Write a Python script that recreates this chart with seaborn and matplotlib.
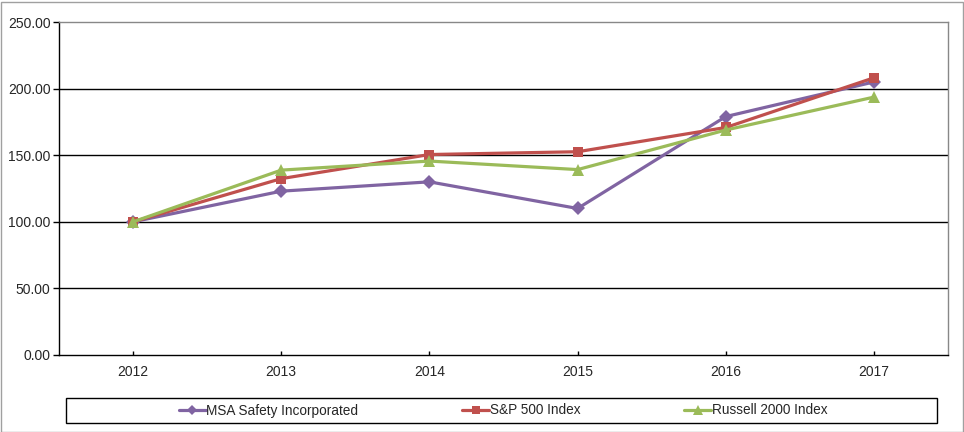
import pandas as pd
import seaborn as sns
import matplotlib.pyplot as plt
from matplotlib.patches import Rectangle

years = [2012, 2013, 2014, 2015, 2016, 2017]
msa = [100.0, 123.0, 130.0, 110.0, 179.0, 205.0]
sp500 = [100.0, 132.4, 150.5, 152.6, 170.8, 208.1]
russell = [100.0, 138.8, 145.6, 139.2, 168.9, 193.6]
names = ["MSA Safety Incorporated", "S&P 500 Index", "Russell 2000 Index"]

df = pd.concat([
    pd.DataFrame({"year": years, "value": vals, "series": name})
    for name, vals in zip(names, [msa, sp500, russell])
])

sns.set_style("white")
plt.rcParams['font.family'] = ['Liberation Sans', 'DejaVu Sans']

fig = plt.figure(figsize=(9.64, 4.32), dpi=100)
ax = fig.add_axes([59 / 964, 1 - 355 / 432, (948 - 59) / 964, (355 - 22) / 432])

palette = {names[0]: "#8064A2", names[1]: "#C0504D", names[2]: "#9BBB59"}
markers = {names[0]: "D", names[1]: "s", names[2]: "^"}
sizes = {names[0]: 7, names[1]: 7.5, names[2]: 9}

for name in names:
    sns.lineplot(data=df[df.series == name], x="year", y="value", ax=ax,
                 color=palette[name], marker=markers[name], markersize=sizes[name],
                 markeredgewidth=0, linewidth=2.3, label=name, legend=False)

ax.set_xlim(2011.5, 2017.5)
ax.set_ylim(0, 250)
ax.set_xticks(years)
ax.set_xticklabels([str(y) for y in years])
ax.set_yticks([0, 50, 100, 150, 200, 250])
ax.set_yticklabels([f"{v:.2f}" for v in [0, 50, 100, 150, 200, 250]])
ax.set_xlabel("")
ax.set_ylabel("")
ax.tick_params(axis="y", direction="out", length=4, width=1, color="black",
               labelsize=10, pad=2, left=True)
ax.tick_params(axis="x", direction="in", length=3, width=1, color="black",
               labelsize=10, pad=7, bottom=True)
for v in [50, 100, 150, 200]:
    ax.axhline(v, color="black", linewidth=1, zorder=0)

ax.spines["left"].set_color("black")
ax.spines["bottom"].set_color("black")
ax.spines["top"].set_color("#888888")
ax.spines["right"].set_color("#888888")
for s in ax.spines.values():
    s.set_linewidth(1)

# legend box
fig.patches.append(Rectangle((66 / 964, 1 - 423 / 432), (937 - 66) / 964, 25 / 432,
                             transform=fig.transFigure, fill=False,
                             edgecolor="black", linewidth=1))
handles, labels = ax.get_legend_handles_labels()
leg = fig.legend(handles, labels, loc="center", ncol=3,
                 bbox_to_anchor=(503 / 964, 1 - 410.5 / 432),
                 frameon=False, handlelength=2.0, handletextpad=0.05,
                 columnspacing=7.6, markerscale=0.75,
                 prop={"size": 9.8})

# outer frame
fig.patches.append(Rectangle((0.5 / 964, 0.5 / 432), 962 / 964, 430 / 432,
                             transform=fig.transFigure, fill=False,
                             edgecolor="#A0A0A0", linewidth=1))

fig.savefig("out.png", dpi=100)
